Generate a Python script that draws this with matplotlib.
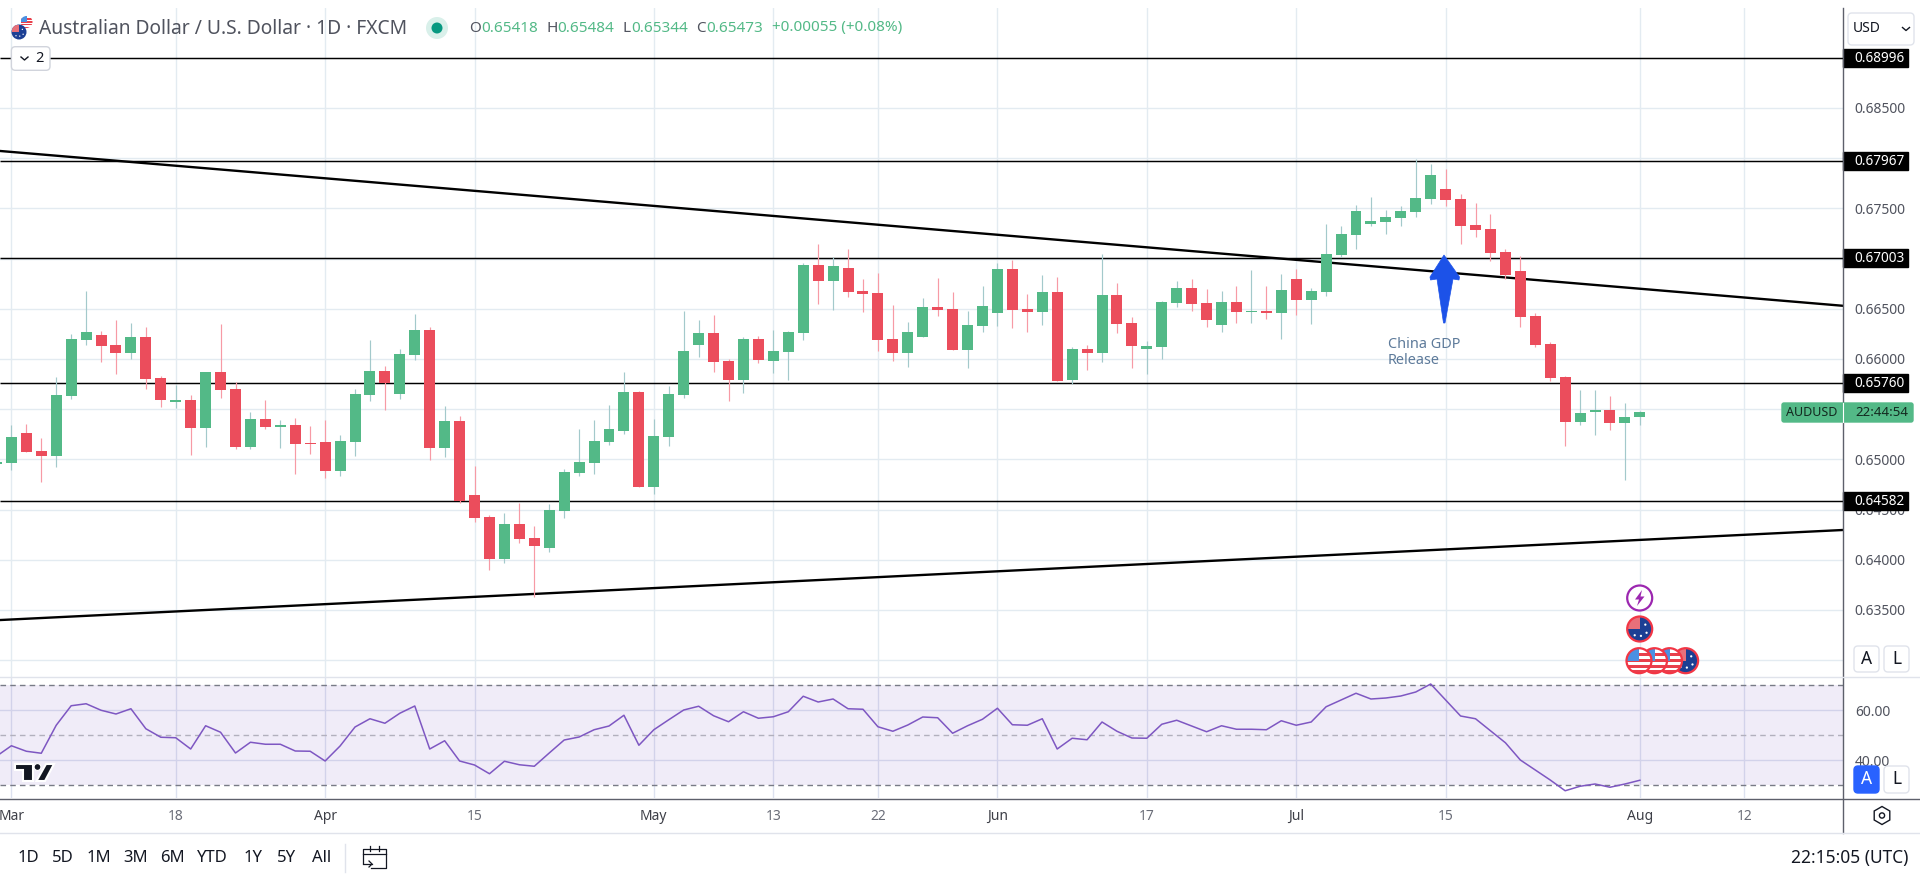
import numpy as np
import matplotlib
matplotlib.use("Agg")
import matplotlib.pyplot as plt
from matplotlib.patches import Circle, FancyBboxPatch, Polygon, Rectangle

plt.rcParams["font.family"] = ["Noto Sans", "DejaVu Sans"]

# daily candles, first one is 29 Feb (mostly off the left edge), last is 1 Aug
opens = [0.64955, 0.64963, 0.65258, 0.65079, 0.65029, 0.65627, 0.66184, 0.66234, 0.66135, 0.66055, 0.66214,
         0.65806, 0.65567, 0.65587, 0.65308, 0.65866, 0.65696, 0.65119, 0.65398, 0.65318, 0.65338,
         0.65159, 0.65168, 0.64880, 0.65168, 0.65637, 0.65876, 0.65647, 0.66035, 0.66284, 0.65109,
         0.65378, 0.64641, 0.64421, 0.64003, 0.64352, 0.64212, 0.64113, 0.64481, 0.64860, 0.64959,
         0.65168, 0.65278, 0.65666, 0.64720, 0.65218, 0.65637, 0.66135, 0.66254, 0.65975, 0.65786,
         0.66194, 0.65975, 0.66065, 0.66254, 0.66931, 0.66772, 0.66902, 0.66672, 0.66653, 0.66194,
         0.66055, 0.66214, 0.66513, 0.66493, 0.66085, 0.66324, 0.66453, 0.66892, 0.66493, 0.66463,
         0.66662, 0.65786, 0.66095, 0.66055, 0.66633, 0.66354, 0.66095, 0.66115, 0.66553, 0.66702,
         0.66553, 0.66334, 0.66563, 0.66463, 0.66473, 0.66453, 0.66792, 0.66583, 0.66662, 0.67031,
         0.67230, 0.67340, 0.67360, 0.67400, 0.67459, 0.67589, 0.67688, 0.67589, 0.67330, 0.67290,
         0.67061, 0.66872, 0.66423, 0.66145, 0.65816, 0.65368, 0.65467, 0.65487, 0.65358, 0.65418]
highs = [0.65010, 0.65338, 0.65348, 0.65208, 0.65816, 0.66244, 0.66672, 0.66274, 0.66384, 0.66354, 0.66314,
         0.65826, 0.65736, 0.65637, 0.65866, 0.66344, 0.65766, 0.65467, 0.65587, 0.65388, 0.65408,
         0.65328, 0.65388, 0.65238, 0.65696, 0.66184, 0.65925, 0.66095, 0.66443, 0.66314, 0.65527,
         0.65427, 0.64929, 0.64441, 0.64461, 0.64561, 0.64332, 0.64551, 0.64900, 0.65298, 0.65388,
         0.65537, 0.65866, 0.65676, 0.65398, 0.65726, 0.66473, 0.66384, 0.66433, 0.65995, 0.66214,
         0.66224, 0.66284, 0.66274, 0.66951, 0.67141, 0.67011, 0.67091, 0.66792, 0.66852, 0.66533,
         0.66364, 0.66603, 0.66802, 0.66662, 0.66473, 0.66722, 0.66951, 0.66981, 0.66643, 0.66832,
         0.66812, 0.66115, 0.66135, 0.67041, 0.66752, 0.66413, 0.66174, 0.66573, 0.66772, 0.66792,
         0.66692, 0.66672, 0.66722, 0.66882, 0.66722, 0.66842, 0.66892, 0.66702, 0.67340, 0.67320,
         0.67529, 0.67609, 0.67479, 0.67519, 0.67987, 0.67937, 0.67888, 0.67639, 0.67549, 0.67439,
         0.67091, 0.67021, 0.66453, 0.66164, 0.65826, 0.65686, 0.65686, 0.65627, 0.65557, 0.65484]
lows = [0.64930, 0.64890, 0.65069, 0.64770, 0.64919, 0.65597, 0.66135, 0.65965, 0.65846, 0.65995, 0.65696,
        0.65517, 0.65507, 0.65039, 0.65119, 0.65607, 0.65099, 0.65099, 0.65298, 0.65109, 0.64850,
        0.65049, 0.64810, 0.64830, 0.65029, 0.65577, 0.65487, 0.65597, 0.65985, 0.64989, 0.65019,
        0.64564, 0.64372, 0.63894, 0.63963, 0.64163, 0.63625, 0.64073, 0.64412, 0.64830, 0.64850,
        0.65139, 0.65248, 0.64720, 0.64651, 0.65129, 0.65607, 0.66015, 0.65866, 0.65577, 0.65657,
        0.65955, 0.65856, 0.65786, 0.66184, 0.66543, 0.66483, 0.66613, 0.66463, 0.66075, 0.65975,
        0.65915, 0.66214, 0.66423, 0.66085, 0.65906, 0.66264, 0.66324, 0.66304, 0.66264, 0.66334,
        0.65776, 0.65746, 0.65886, 0.65965, 0.66254, 0.65906, 0.65846, 0.65995, 0.66513, 0.66473,
        0.66314, 0.66264, 0.66354, 0.66354, 0.66394, 0.66194, 0.66433, 0.66344, 0.66623, 0.67011,
        0.67091, 0.67320, 0.67240, 0.67320, 0.67409, 0.67539, 0.67519, 0.67141, 0.67210, 0.66971,
        0.66792, 0.66314, 0.66115, 0.65776, 0.65129, 0.65338, 0.65238, 0.65288, 0.64790, 0.65344]
closes = [0.64969, 0.65218, 0.65069, 0.65029, 0.65637, 0.66194, 0.66264, 0.66125, 0.66055, 0.66214, 0.65796,
          0.65587, 0.65587, 0.65308, 0.65866, 0.65686, 0.65119, 0.65398, 0.65318, 0.65338, 0.65149,
          0.65149, 0.64880, 0.65178, 0.65647, 0.65876, 0.65756, 0.66045, 0.66284, 0.65109, 0.65378,
          0.64581, 0.64412, 0.64003, 0.64352, 0.64202, 0.64133, 0.64491, 0.64870, 0.64969, 0.65178,
          0.65298, 0.65666, 0.64720, 0.65228, 0.65647, 0.66075, 0.66254, 0.65965, 0.65786, 0.66194,
          0.65985, 0.66075, 0.66264, 0.66931, 0.66772, 0.66921, 0.66662, 0.66643, 0.66184, 0.66055,
          0.66264, 0.66513, 0.66483, 0.66085, 0.66334, 0.66523, 0.66892, 0.66483, 0.66463, 0.66662,
          0.65776, 0.66095, 0.66055, 0.66633, 0.66344, 0.66125, 0.66125, 0.66563, 0.66702, 0.66543,
          0.66384, 0.66563, 0.66463, 0.66473, 0.66453, 0.66682, 0.66583, 0.66672, 0.67041, 0.67240,
          0.67469, 0.67370, 0.67409, 0.67469, 0.67599, 0.67828, 0.67579, 0.67320, 0.67280, 0.67051,
          0.66832, 0.66413, 0.66135, 0.65806, 0.65368, 0.65457, 0.65487, 0.65358, 0.65417, 0.65473]

rsi = [41.5, 45.7, 43.5, 42.7, 53.9, 61.7, 62.5, 59.9, 58.4, 60.5, 52.5,
       49.1, 48.9, 44.4, 53.7, 51.1, 42.8, 47.1, 46.3, 46.3, 43.6,
       43.5, 39.6, 45.6, 53.2, 56.5, 54.7, 58.7, 61.6, 44.4, 47.7,
       39.6, 38.0, 34.5, 39.5, 38.1, 37.5, 42.8, 48.0, 49.2, 52.1,
       53.6, 57.9, 45.9, 52.1, 56.1, 60.0, 61.5, 57.7, 55.3, 59.3,
       56.7, 57.3, 59.3, 65.5, 63.2, 64.4, 60.5, 60.3, 53.3, 51.5,
       54.0, 57.2, 56.9, 50.7, 53.7, 56.3, 60.7, 54.1, 53.9, 56.5,
       44.4, 48.7, 48.1, 55.2, 51.5, 48.8, 48.7, 54.3, 55.9, 53.6,
       51.3, 53.7, 52.3, 52.3, 52.1, 55.7, 53.9, 55.2, 61.3, 64.0,
       66.7, 64.4, 64.8, 65.6, 67.2, 70.4, 64.0, 57.6, 56.5, 51.7,
       46.9, 40.0, 36.0, 32.0, 27.7, 29.5, 30.4, 29.1, 30.4, 31.9]

levels = [0.68996, 0.67967, 0.67003, 0.65760, 0.64582]
level_labels = ["0.68996", "0.67967", "0.67003", "0.65760", "0.64582"]
upper_trend = [0.68071, 0.66529]
lower_trend = [0.63399, 0.64296]

price_ticks = [0.630, 0.635, 0.640, 0.645, 0.650, 0.655, 0.660, 0.665, 0.670, 0.675, 0.680, 0.685]
# these ones sit behind a tag or a button on the scale
price_hidden = [0.630, 0.655, 0.670, 0.680]
time_ticks = [0, 11, 21, 31, 43, 51, 58, 66, 76, 86, 96, 109, 116]
time_labels = ["Mar", "18", "Apr", "15", "May", "13", "22", "Jun", "17", "Jul", "15", "Aug", "12"]
range_buttons = ["1D", "5D", "1M", "3M", "6M", "YTD", "1Y", "5Y", "All"]
range_x = [28, 63, 99, 136, 172, 212, 253, 287, 322]

GREEN = "#53b987"
RED = "#eb4d5c"
GREEN_WICK = "#a3c9cb"
RED_WICK = "#f79aa5"
GRID = "#e3ebf1"
TEXT = "#50535e"

W, H = 1920, 876
AXIS_X = 1843
BAR_PX = 14.94
X0 = 11.4

fig = plt.figure(figsize=(W / 100, H / 100), dpi=100, facecolor="white")


def pane(top, bottom):
    return fig.add_axes([0, 1 - bottom / H, AXIS_X / W, (bottom - top) / H])


xlim = (-X0 / BAR_PX, (AXIS_X - X0) / BAR_PX)
ax = pane(8, 677)
ax_r = pane(677, 798)

# price pane
ax.set_xlim(xlim)
ax.set_ylim(0.675 - (677 - 208.3) / 10040, 0.675 + 200.3 / 10040)
ax.set_xticks(time_ticks)
ax.set_yticks(price_ticks)
ax.set_yticklabels(["" if p in price_hidden else "%.5f" % p for p in price_ticks])
ax.yaxis.tick_right()
ax.tick_params(axis="y", length=0, pad=8.5, labelsize=10, labelcolor=TEXT)
ax.tick_params(axis="x", length=0, labelbottom=False)
ax.grid(True, color=GRID, lw=1.0)
ax.set_axisbelow(True)
for s in ax.spines.values():
    s.set_visible(False)

ax.hlines(levels, xlim[0], xlim[1], color="black", lw=1.05, zorder=2)
ax.plot(xlim, upper_trend, color="black", lw=1.7, zorder=2)
ax.plot(xlim, lower_trend, color="black", lw=1.7, zorder=2)

idx = np.arange(len(opens)) - 1
o, h, l, c = map(np.array, (opens, highs, lows, closes))
up = c >= o
ax.vlines(idx[up], l[up], h[up], color=GREEN_WICK, lw=0.85, zorder=3)
ax.vlines(idx[~up], l[~up], h[~up], color=RED_WICK, lw=0.85, zorder=3)
ax.bar(idx[up], (c - o)[up], bottom=o[up], width=0.736, color=GREEN, zorder=4)
ax.bar(idx[~up], (o - c)[~up], bottom=c[~up], width=0.736, color=RED, zorder=4)

# black price tags on the scale
ytrans = ax.get_yaxis_transform()
for lev, lab in zip(levels, level_labels):
    ax.add_patch(Rectangle((1, lev - 0.0009), 65 / AXIS_X, 0.0018, transform=ytrans,
                           color="black", clip_on=False, zorder=6))
    ax.text(1 + 11 / AXIS_X, lev - 0.00003, lab, transform=ytrans, color="white", fontsize=9.8,
            fontweight="bold", va="center", zorder=7)

# rsi pane
ax_r.set_xlim(xlim)
ax_r.set_ylim(60 - 88 / 2.5, 60 + 33 / 2.5)
ax_r.set_xticks(time_ticks)
ax_r.set_xticklabels(time_labels)
ax_r.set_yticks([40, 60])
ax_r.set_yticklabels(["40.00", "60.00"])
ax_r.yaxis.tick_right()
ax_r.tick_params(axis="y", length=0, pad=8.5, labelsize=10, labelcolor=TEXT)
ax_r.tick_params(axis="x", length=0, pad=8, labelsize=10)
for lab in ax_r.get_xticklabels():
    lab.set_color("#3d3f47" if lab.get_text().isalpha() else "#6a6d78")
ax_r.grid(True, color="#dde2f0", lw=1.0)
ax_r.set_axisbelow(True)
ax_r.axhspan(30, 70, color="#7e57c2", alpha=0.11, lw=0, zorder=1)
ax_r.axhline(70, color="#787b86", lw=1, dashes=(4, 3), zorder=2)
ax_r.axhline(50, color="#b2b0bd", lw=1, dashes=(4, 3), zorder=2)
ax_r.axhline(30, color="#787b86", lw=1, dashes=(4, 3), zorder=2)
ax_r.plot(np.arange(len(rsi)) - 1, rsi, color="#7e57c2", lw=1.1, zorder=3)
for s in ax_r.spines.values():
    s.set_visible(False)

# everything around the panes, in pixels
ov = fig.add_axes([0, 0, 1, 1], zorder=10)
ov.set_xlim(0, W)
ov.set_ylim(H, 0)
ov.axis("off")


def box(x0, y0, x1, y1, fc="white", ec="#e0e3eb", r=4, lw=1.0, z=3):
    ov.add_patch(FancyBboxPatch((x0 + r, y0 + r), x1 - x0 - 2 * r, y1 - y0 - 2 * r,
                                boxstyle="round,pad=%s,rounding_size=%s" % (r, r),
                                fc=fc, ec=ec, lw=lw, zorder=z))


def us_flag(cx, cy, r, ring=None, z=4):
    ov.add_patch(Circle((cx, cy), r, fc="white", ec="none", zorder=z))
    stripes = [Rectangle((cx - r, cy + k * r), 2 * r, 0.2 * r, fc="#e8404c", zorder=z) for k in (-0.6, -0.1, 0.35, 0.75)]
    canton = Rectangle((cx - r, cy - r), r, r * 1.05, fc="#4a90e2", zorder=z)
    for p in stripes + [canton]:
        ov.add_patch(p)
        p.set_clip_path(Circle((cx, cy), r, transform=ov.transData))
    if ring:
        ov.add_patch(Circle((cx, cy), r, fc="none", ec=ring, lw=1.6, zorder=z))


def au_flag(cx, cy, r, ring=None, z=4):
    ov.add_patch(Circle((cx, cy), r, fc="#1c3f94", ec="none", zorder=z))
    canton = Rectangle((cx - r, cy - r), r, r, fc="#e8707a", zorder=z)
    ov.add_patch(canton)
    canton.set_clip_path(Circle((cx, cy), r, transform=ov.transData))
    for dx, dy in ((0.45, -0.35), (0.55, 0.3), (0.1, 0.55), (-0.4, 0.5)):
        ov.add_patch(Circle((cx + dx * r, cy + dy * r), r * 0.09, fc="white", zorder=z))
    if ring:
        ov.add_patch(Circle((cx, cy), r, fc="none", ec=ring, lw=1.6, zorder=z))


# pane borders
ov.plot([AXIS_X, AXIS_X], [8, 833], color="#5d606b", lw=1.0, zorder=2)
ov.plot([0, W], [677, 677], color="#e0e3eb", lw=1.0, zorder=2)
ov.plot([0, W], [798.5, 798.5], color="#5d606b", lw=1.0, zorder=2)
ov.plot([0, W], [833, 833], color="#e0e3eb", lw=1.0, zorder=2)

# header
us_flag(26.5, 22, 6)
au_flag(19, 32, 7.5)
ov.text(39, 29, "Australian Dollar / U.S. Dollar · 1D · FXCM", fontsize=13.85, color=TEXT, va="center")
ov.add_patch(Circle((437, 28), 11, fc="#d9f0ea", ec="none"))
ov.add_patch(Circle((437, 28), 5.5, fc="#089981", ec="none"))
for x, lab, col in [(468.7, "O", TEXT), (481, "0.65418", GREEN), (546, "H", TEXT), (557, "0.65484", GREEN),
                    (622.7, "L", TEXT), (631.7, "0.65344", GREEN), (696, "C", TEXT), (706.7, "0.65473", GREEN),
                    (772, "+0.00055 (+0.08%)", GREEN)]:
    ov.text(x, 28, lab, fontsize=11, color=col, va="center")

box(11.4, 46.7, 50, 70.3, ec="#d1d4dc")
ov.plot([21, 24.5, 28], [57, 60, 57], color="#131722", lw=1, zorder=5)
ov.text(39.5, 58.5, "2", fontsize=10.5, color="#131722", ha="center", va="center", zorder=5)

# right side controls
box(1848, 13, 1914, 45)
ov.text(1853, 28.5, "USD", fontsize=10, color="#131722", va="center", zorder=5)
ov.plot([1902.5, 1906, 1909.5], [27.5, 30.5, 27.5], color="#131722", lw=1, zorder=5)
box(1854, 646, 1879, 672)
box(1884, 646, 1909, 672)
ov.text(1866.5, 659, "A", fontsize=12.5, color="#131722", ha="center", va="center", zorder=5)
ov.text(1896.5, 659, "L", fontsize=12.5, color="#131722", ha="center", va="center", zorder=5)
box(1854, 766, 1879, 793, fc="#2962ff", ec="#2962ff")
box(1884, 766, 1909, 793)
ov.text(1866.5, 779.5, "A", fontsize=12.5, color="white", ha="center", va="center", zorder=5)
ov.text(1896.5, 779.5, "L", fontsize=12.5, color="#131722", ha="center", va="center", zorder=5)
ang = np.deg2rad(np.arange(30, 390, 60))
ov.add_patch(Polygon(np.c_[1882 + 9 * np.cos(ang), 815.5 + 9 * np.sin(ang)], fc="none", ec="#131722", lw=1))
ov.add_patch(Circle((1882, 815.5), 2.6, fc="none", ec="#131722", lw=1))

# symbol tag
box(1782, 403, 1913, 422, fc=GREEN, ec=GREEN, r=2)
ov.plot([AXIS_X, AXIS_X], [403, 422], color="white", lw=0.8, zorder=4)
ov.text(1786, 412.5, "AUDUSD", fontsize=9, color="#13281f", va="center", zorder=5)
ov.text(1855, 412.5, "22:44:54", fontsize=9.6, color="#13281f", va="center", zorder=5)

# china gdp arrow and note
ov.add_patch(Polygon([(1444, 255), (1459.5, 277), (1459, 280), (1453, 279), (1445, 323), (1443.5, 323),
                      (1437, 279), (1430.5, 280), (1430, 277)], fc="#1c52e8", ec="#1c52e8", lw=0.5, zorder=4))
ov.text(1388, 344, "China GDP", fontsize=10.4, color="#5d7a9a", va="center")
ov.text(1388, 360, "Release", fontsize=10.4, color="#5d7a9a", va="center")

# event icons
ov.add_patch(Circle((1639.7, 598), 12.5, fc="white", ec="#9c27b0", lw=1.6, zorder=4))
ov.add_patch(Polygon([(1642, 590), (1635, 599.5), (1639, 599.5), (1637, 606), (1644.5, 596.5), (1640.5, 596.5)],
                     fc="#9c27b0", ec="none", zorder=5))
au_flag(1639.7, 629, 12.5, ring="#f23645")
au_flag(1685.6, 660.7, 12.5, ring="#f23645", z=4)
us_flag(1669.5, 660.7, 12.5, ring="#f23645", z=5)
us_flag(1654.5, 660.7, 12.5, ring="#f23645", z=6)
us_flag(1639, 660.7, 12.5, ring="#f23645", z=7)

# tradingview logo
ov.add_patch(Polygon([(15, 764), (33, 764), (33, 781), (22.5, 781), (22.5, 770), (15, 770)], fc="#131722", ec="white", lw=1.5, zorder=4))
ov.add_patch(Circle((37.5, 767), 3.4, fc="#131722", ec="white", lw=0.8, zorder=4))
ov.add_patch(Polygon([(46, 764), (54, 764), (45, 781), (36.5, 781)], fc="#131722", ec="white", lw=1.5, zorder=4))

# bottom toolbar
for x, lab in zip(range_x, range_buttons):
    ov.text(x, 858, lab, fontsize=12, color="#131722", ha="center", va="center")
ov.plot([345, 345], [844, 872], color="#e0e3eb", lw=1)
ov.plot([363, 363, 386, 386, 371], [863, 849, 849, 868, 868], color="#131722", lw=0.9)
ov.plot([363, 386], [854, 854], color="#131722", lw=0.9)
ov.plot([370, 370], [846, 851], color="#131722", lw=0.9)
ov.plot([379, 379], [846, 851], color="#131722", lw=0.9)
ov.plot([363, 372], [864, 864], color="#131722", lw=0.9)
ov.plot([369, 372, 369], [861, 864, 867], color="#131722", lw=0.9)
ov.text(1908, 858, "22:15:05 (UTC)", fontsize=12.5, color="#131722", ha="right", va="center")

fig.savefig("out.png", dpi=100)
